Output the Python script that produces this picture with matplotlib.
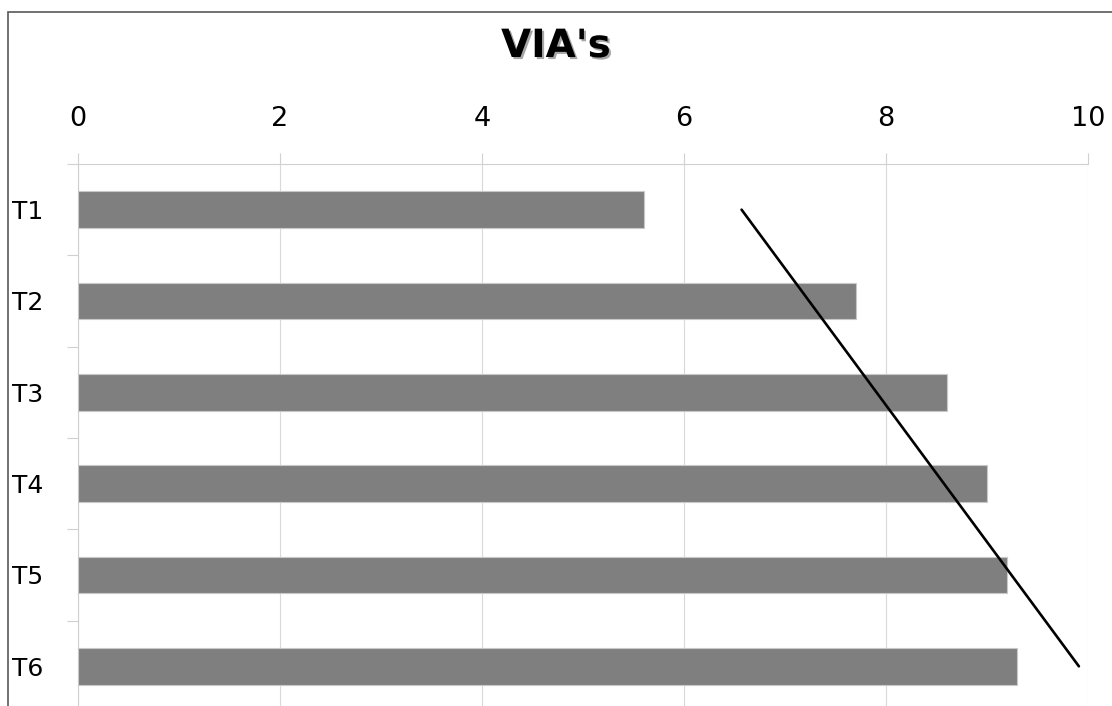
import matplotlib
matplotlib.use("Agg")
import matplotlib.pyplot as plt
import matplotlib.patheffects as pe
from matplotlib.patches import Rectangle
import numpy as np

categories = ["T1", "T2", "T3", "T4", "T5", "T6"]
values = [5.6, 7.7, 8.6, 9.0, 9.2, 9.3]
x_ticks = [0, 2, 4, 6, 8, 10]
trend_x = [6.57, 9.91]
trend_cat = ["T1", "T6"]

W, H = 1112, 706
fig = plt.figure(figsize=(W / 100, H / 100), dpi=100)
plt.rcParams['font.family'] = ['DejaVu Sans']

# figure border
fig.add_artist(Rectangle((8 / W, -0.1), 1.2, 1.1 - 12 / H, transform=fig.transFigure,
                         fill=False, edgecolor='#595959', linewidth=1.2))

ax = fig.add_axes([78 / W, -6 / H, (1088 - 78) / W, (712 - 164) / H])
ypos = np.arange(len(categories))
ax.barh(ypos, values, height=0.4, color='#7f7f7f', edgecolor='#c8c8c8', linewidth=0.8, zorder=3)

ty = [categories.index(c) for c in trend_cat]
ax.plot(trend_x, ty, color='black', linewidth=1.9, solid_capstyle='round', zorder=4)

ax.set_xlim(0, 10)
ax.set_ylim(len(categories) - 0.5, -0.5)
ax.xaxis.tick_top()
ax.set_xticks(x_ticks)
ax.set_xticklabels([str(t) for t in x_ticks], fontsize=19.5)
ax.tick_params(axis='x', which='major', length=8, color='#d0d0d0', pad=15, width=0.8)
ax.grid(axis='x', color='#d9d9d9', linewidth=0.8, zorder=0)

ax.set_yticks(ypos)
ax.set_yticklabels(categories, fontsize=18, ha='left')
ax.set_yticks(np.arange(-0.5, len(categories) + 0.5, 1), minor=True)
ax.tick_params(axis='y', which='major', length=0, pad=47.5)
ax.tick_params(axis='y', which='minor', length=8, color='#d0d0d0', width=0.8)

for s in ['right', 'bottom']:
    ax.spines[s].set_visible(False)
ax.spines['top'].set_color('#d0d0d0')
ax.spines['top'].set_linewidth(0.8)
ax.spines['left'].set_color('#d0d0d0')
ax.spines['left'].set_linewidth(0.8)

fig.text(556 / W, 1 - 46 / H, "VIA's", ha='center', va='center', fontsize=28, fontweight='bold',
         path_effects=[pe.withSimplePatchShadow(offset=(1.5, -1.5), shadow_rgbFace='#808080', alpha=0.7)])

fig.savefig("out.png", dpi=100)
